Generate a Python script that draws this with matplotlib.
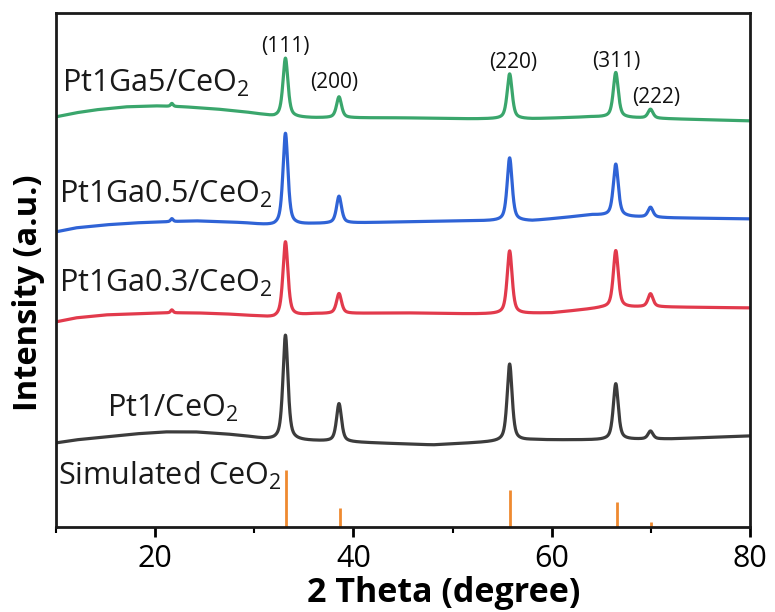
import numpy as np
import matplotlib
matplotlib.use("Agg")
import matplotlib.pyplot as plt
from matplotlib.ticker import MultipleLocator

plt.rcParams['font.family'] = ['Open Sans', 'DejaVu Sans']
plt.rcParams['mathtext.fontset'] = 'custom'
plt.rcParams['mathtext.rm'] = 'Open Sans'
plt.rcParams['mathtext.it'] = 'Open Sans'
plt.rcParams['mathtext.bf'] = 'Open Sans:bold'

# Reflection positions (2 theta, degree) and labels
hkl_labels = ["(111)", "(200)", "(220)", "(311)", "(222)"]
peak_pos = [33.15, 38.55, 55.75, 66.45, 69.95]

# Reference stick intensities (simulated CeO2)
stick_pos = [33.2, 38.65, 55.8, 66.55, 69.95]
stick_int = [57, 19, 37, 25, 5]

# Background anchor points (2 theta, stacked intensity) for each pattern
bg_x = {
    "Pt1Ga5":   [10, 12, 14, 17, 20, 23, 26, 29, 31, 32, 36, 45, 52, 58, 64, 68, 72, 80],
    "Pt1Ga0.5": [10, 12, 15, 18, 21, 24, 27, 29, 32, 36, 45, 52, 58, 64, 68, 72, 80],
    "Pt1Ga0.3": [10, 12, 15, 18, 21, 24, 27, 30, 32, 36, 45, 52, 56, 60, 65, 70, 80],
    "Pt1":      [10, 12, 15, 18, 21, 24, 27, 29, 31, 32, 36, 42, 48, 54, 58, 65, 72, 80],
}
bg_y = {
    "Pt1Ga5":   [410, 414, 417, 420, 421, 420, 418, 415, 412, 410, 409, 409, 408, 408, 410, 409, 408, 406],
    "Pt1Ga0.5": [295, 299, 302, 304, 305, 306, 305, 304, 301, 303, 305, 306, 306, 312, 310, 309, 308],
    "Pt1Ga0.3": [205, 209, 212, 213, 214, 214, 213, 211, 209, 213, 214, 213, 213, 214, 219, 220, 219],
    "Pt1":      [84, 87, 90, 93, 95, 95, 93, 91, 88, 87, 86, 84, 82, 85, 87, 87, 88, 91],
}

# Peak heights above background for (111), (200), (220), (311), (222)
peak_h = {
    "Pt1Ga5":   [59, 21, 45, 45, 9],
    "Pt1Ga0.5": [92, 27, 63, 52, 10],
    "Pt1Ga0.3": [75, 20, 63, 57, 13],
    "Pt1":      [105, 38, 77, 56, 8],
}
# Weak feature near 21.7 degree
minor_pos = 21.7
minor_h = {"Pt1Ga5": 3, "Pt1Ga0.5": 3, "Pt1Ga0.3": 3, "Pt1": 0}

series_names = ["Pt1Ga5", "Pt1Ga0.5", "Pt1Ga0.3", "Pt1"]
series_labels = [r"Pt1Ga5/CeO$_2$", r"Pt1Ga0.5/CeO$_2$", r"Pt1Ga0.3/CeO$_2$", r"Pt1/CeO$_2$"]
series_colors = ["#3aa66c", "#2f63d6", "#e23a4c", "#3c3c3c"]
stick_color = "#ef8a30"


def pseudo_voigt(x, x0, h, fwhm, eta=0.6):
    g = np.exp(-4 * np.log(2) * ((x - x0) / fwhm) ** 2)
    l = 1.0 / (1.0 + 4 * ((x - x0) / fwhm) ** 2)
    return h * (eta * l + (1 - eta) * g)


tt = np.linspace(10, 80, 3500)

fig = plt.figure(figsize=(7.75, 6.12), dpi=100)
ax = fig.add_axes([0.072, 0.139, 0.896, 0.840])

for name, lab, col in zip(series_names, series_labels, series_colors):
    y = np.interp(tt, bg_x[name], bg_y[name]).astype(float)
    for p, h in zip(peak_pos, peak_h[name]):
        y += pseudo_voigt(tt, p, h, 0.6)
    if minor_h[name]:
        y += pseudo_voigt(tt, minor_pos, minor_h[name], 0.3)
    ax.plot(tt, y, color=col, lw=2.3)

ax.vlines(stick_pos, 0, stick_int, color=stick_color, lw=2.0)

# Pattern labels (left edge, baseline)
label_xy = [(10.6, 435), (10.3, 324), (10.3, 235), (15.2, 110)]
for (lx, ly), lab in zip(label_xy, series_labels):
    ax.text(lx, ly, lab, fontsize=22, ha="left", va="baseline", color="#1a1a1a")
ax.text(10.2, 42, r"Simulated CeO$_2$", fontsize=22, ha="left", va="baseline", color="#1a1a1a")

# Miller indices
hkl_xy = [(33.1, 480), (38.1, 444), (56.1, 464), (66.5, 465), (70.5, 429)]
for (hx, hy), t in zip(hkl_xy, hkl_labels):
    ax.text(hx, hy, t, fontsize=15, ha="center", va="center", color="#111111")

ax.set_xlim(10, 80)
ax.set_ylim(0, 514)
ax.set_yticks([])
ax.xaxis.set_major_locator(MultipleLocator(20))
ax.xaxis.set_minor_locator(MultipleLocator(10))
ax.tick_params(axis="x", which="major", direction="out", length=7, width=2, labelsize=22, pad=5)
ax.tick_params(axis="x", which="minor", direction="out", length=4, width=1.5)
for s in ax.spines.values():
    s.set_linewidth(2)
    s.set_color("#1a1a1a")

ax.set_xlabel("2 Theta (degree)", fontsize=24.5, fontweight="bold")
ax.xaxis.label.set_va("baseline")
ax.xaxis.set_label_coords(0.558, -0.146)

ax.set_ylabel("Intensity (a.u.)", fontsize=23.5, fontweight="bold")
ax.yaxis.label.set_va("center")
ax.yaxis.label.set_ha("center")
ax.yaxis.set_label_coords(-0.040, 0.455)

fig.savefig("out.png", dpi=100)
